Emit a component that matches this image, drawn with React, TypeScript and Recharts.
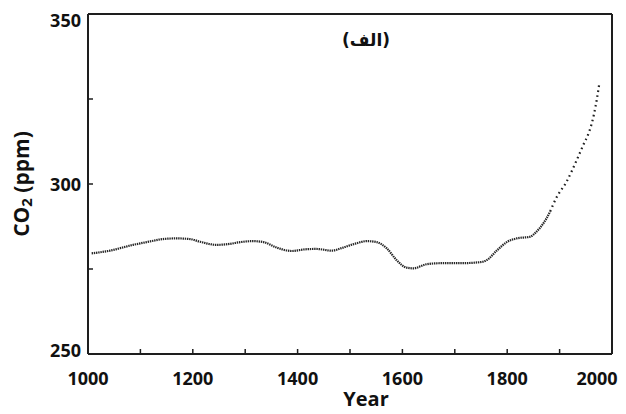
import React from "react";
import { Line, LineChart, ReferenceLine, XAxis, YAxis } from "recharts";

// ice core record (dense part)
const coreYears = [
  1007, 1042, 1086, 1112, 1143, 1169, 1195, 1214, 1246, 1271, 1290, 1315, 1335, 1360, 1389, 1415,
  1436, 1465, 1487, 1513, 1532, 1551, 1570, 1589, 1608, 1621, 1646, 1672, 1710, 1748, 1761, 1780,
  1799, 1818, 1844, 1856, 1869, 1882,
];
const coreCo2 = [
  279.6, 280.4, 282.1, 282.9, 283.8, 284.0, 283.8, 283.0, 282.1, 282.4, 282.9, 283.2, 282.9, 281.3,
  280.3, 280.8, 280.9, 280.4, 281.3, 282.6, 283.2, 282.9, 281.1, 277.6, 275.4, 275.2, 276.4, 276.7,
  276.7, 277.0, 277.6, 280.4, 282.9, 284.0, 284.5, 286.0, 288.4, 291.9,
];

// steep modern rise (sparser dots)
const modernYears = [1882, 1894, 1913, 1932, 1945, 1955, 1961, 1966, 1971, 1976];
const modernCo2 = [291.9, 296.0, 300.6, 306.8, 311.4, 314.8, 317.6, 320.8, 324.9, 329.8];

const xTicks = [1000, 1100, 1200, 1300, 1400, 1500, 1600, 1700, 1800, 1900, 2000];
const yTicks = [250, 275, 300, 325, 350];

const allYears = Array.from(new Set([...coreYears, ...modernYears])).sort((a, b) => a - b);
const data = allYears.map((year) => {
  const i = coreYears.indexOf(year);
  const j = modernYears.indexOf(year);
  return {
    year,
    core: i >= 0 ? coreCo2[i] : null,
    modern: j >= 0 ? modernCo2[j] : null,
  };
});

const FONT = "'Open Sans', sans-serif";
const INK = "#1e1e1e";

const XTick: React.FC<any> = ({ x, y, payload }) => {
  const v = payload.value as number;
  const showLabel = v % 200 === 0;
  const lx = v === 2000 ? x - 15 : x;
  return (
    <g>
      {v !== 1000 && v !== 2000 && (
        <line x1={x} x2={x} y1={y} y2={y - 5} stroke={INK} strokeWidth={1.5} />
      )}
      {showLabel && (
        <text x={lx} y={y + 31} textAnchor="middle" fontFamily={FONT} fontWeight={700} fontSize={18} fill="#111">
          {v}
        </text>
      )}
    </g>
  );
};

const YTick: React.FC<any> = ({ x, y, payload }) => {
  const v = payload.value as number;
  const showLabel = v % 50 === 0;
  const dy = v === 350 ? 13 : v === 250 ? 3 : 7;
  return (
    <g>
      {v !== 250 && v !== 350 && (
        <line x1={x} x2={x + 5} y1={y} y2={y} stroke={INK} strokeWidth={1.5} />
      )}
      {showLabel && (
        <text x={x - 7} y={y + dy} textAnchor="end" fontFamily={FONT} fontWeight={700} fontSize={18} fill="#111">
          {v}
        </text>
      )}
    </g>
  );
};

const YLabel: React.FC<any> = ({ viewBox }) => {
  const cx = viewBox.x + 13;
  const cy = viewBox.y + viewBox.height / 2;
  return (
    <text
      x={cx}
      y={cy}
      transform={`rotate(-90, ${cx}, ${cy})`}
      textAnchor="middle"
      dominantBaseline="central"
      fontFamily={FONT}
      fontWeight={700}
      fontSize={21}
      fill="#111"
    >
      CO
      <tspan fontSize={15} dy={5}>2</tspan>
      <tspan dy={-5}> (ppm)</tspan>
    </text>
  );
};

const XLabel: React.FC<any> = ({ viewBox }) => {
  const cx = viewBox.x + viewBox.width / 2 + 16;
  return (
    <text x={cx} y={viewBox.y + 52} textAnchor="middle" fontFamily={FONT} fontWeight={700} fontSize={20} fill="#111">
      Year
    </text>
  );
};

export default function App() {
  return (
    <div style={{ position: "relative", width: 610, height: 406 }}>
      <LineChart width={610} height={406} data={data} margin={{ top: 6, right: 6, left: 0, bottom: 0 }}>
        <XAxis
          dataKey="year"
          type="number"
          domain={[1000, 2000]}
          ticks={xTicks}
          interval={0}
          height={60}
          tickSize={0}
          tickMargin={0}
          tick={<XTick />}
          axisLine={{ stroke: INK, strokeWidth: 2 }}
          label={<XLabel />}
        />
        <YAxis
          type="number"
          domain={[250, 350]}
          ticks={yTicks}
          interval={0}
          width={80}
          tickSize={0}
          tickMargin={0}
          tick={<YTick />}
          axisLine={{ stroke: INK, strokeWidth: 2 }}
          label={<YLabel />}
        />
        <ReferenceLine y={350} stroke={INK} strokeWidth={2} />
        <ReferenceLine x={2000} stroke={INK} strokeWidth={2} />
        <Line
          dataKey="core"
          type="monotone"
          stroke="#262626"
          strokeWidth={2.2}
          strokeDasharray="1.4 0.8"
          dot={false}
          isAnimationActive={false}
        />
        <Line
          dataKey="modern"
          type="monotone"
          stroke="#1e1e1e"
          strokeWidth={2.2}
          strokeDasharray="1.6 3.4"
          dot={false}
          isAnimationActive={false}
        />
      </LineChart>
      <div
        dir="rtl"
        style={{
          position: "absolute",
          left: 328,
          top: 21,
          width: 60,
          textAlign: "center",
          fontFamily: "'DejaVu Sans', sans-serif",
          fontWeight: 700,
          fontSize: 17,
          lineHeight: "22px",
          color: "#111",
        }}
      >
        (الف)
      </div>
    </div>
  );
}
